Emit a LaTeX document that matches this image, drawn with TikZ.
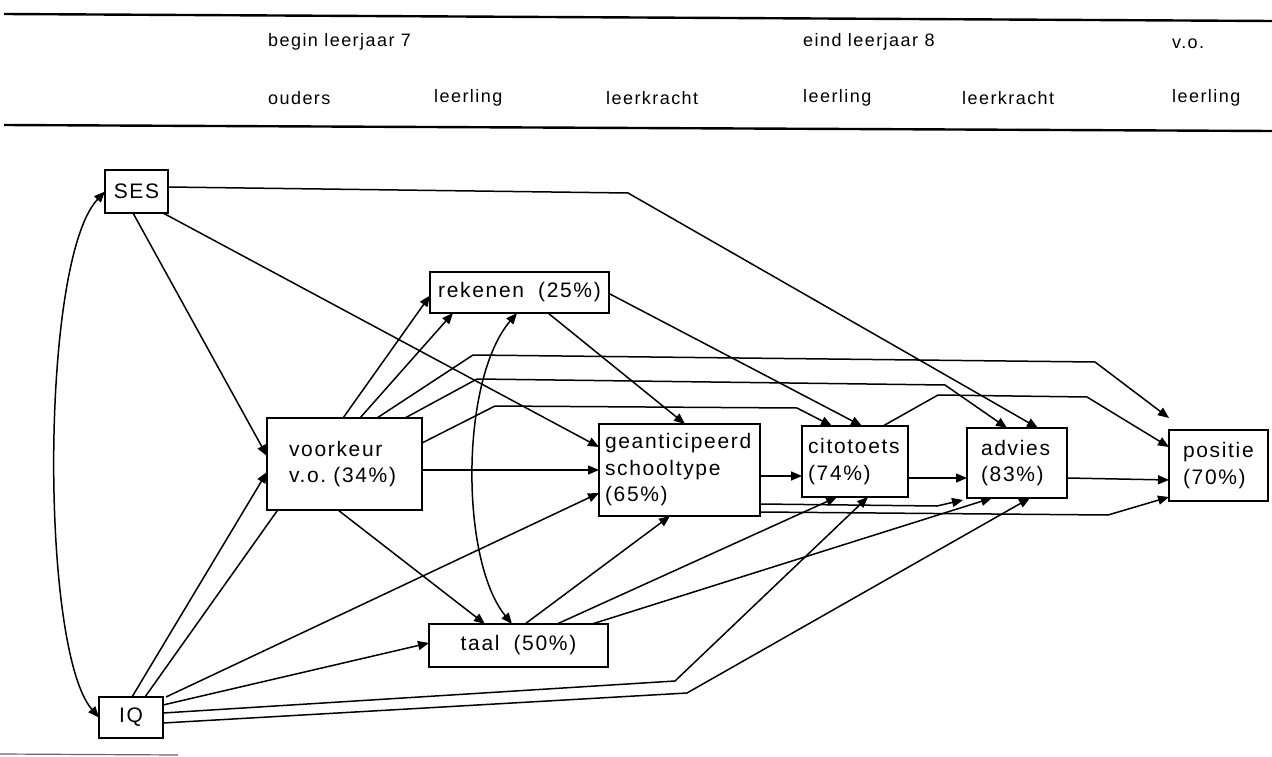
\documentclass[tikz,border=0pt]{standalone}
\usepackage{fontspec}
\setmainfont[LetterSpace=8]{Liberation Sans}
\usetikzlibrary{arrows.meta}
\pgfdeclarelayer{edges}
\pgfsetlayers{edges,main}
\newcommand\boxfont{\fontsize{21}{26.5}\selectfont}
\newcommand\hdrfont{\fontsize{18}{20}\selectfont}
\tikzset{
  box/.style={draw, line width=1.9pt, fill=white, font=\boxfont, anchor=north west, inner ysep=0pt, outer sep=0pt},
  hdr/.style={anchor=west, font=\hdrfont, inner sep=0pt},
  tip/.tip={Triangle[length=11pt,width=9pt]},
  conn/.style={line width=1.5pt, line join=round, -tip},
  biconn/.style={line width=1.5pt, tip-tip},
  rule/.style={line width=2.4pt}
}
\begin{document}
\begin{tikzpicture}[x=1pt,y=-1pt]
\useasboundingbox (0,0) rectangle (1272,757);
% rules
\draw[rule] (4,14) -- (1272,21);
\draw[rule] (4,125) -- (1272,131);
\draw[line width=1.2pt, black!60] (0,754) -- (178,755);
% header
\node[hdr] (h1) at (268,42) {begin leerjaar 7};
\node[hdr] (h2) at (803,42) {eind leerjaar 8};
\node[hdr] (h3) at (1172,44) {v.o.};
\node[hdr] (h4) at (268,98) {ouders};
\node[hdr] (h5) at (434,98) {leerling};
\node[hdr] (h6) at (606,98) {leerkracht};
\node[hdr] (h7) at (803,98) {leerling};
\node[hdr] (h8) at (962,98) {leerkracht};
\node[hdr] (h9) at (1172,98) {leerling};
% boxes
\node[box, align=center, text width=55pt, inner xsep=4pt, minimum height=43pt] (ses) at (105,170) {SES};
\node[box, align=center, text width=56pt, inner xsep=4pt, minimum height=41pt] (iq) at (99,697) {IQ};
\node[box, align=left, text width=111pt, inner xsep=22pt, minimum height=92pt] (vk) at (267,418) {voorkeur\\v.o.~(34\%)\\[3pt]};
\node[box, align=center, text width=171pt, inner xsep=4pt, minimum height=41pt] (rek) at (430,272) {rekenen~~(25\%)};
\node[box, align=left, text width=149pt, inner xsep=6pt, minimum height=92pt] (ga) at (599,424) {geanticipeerd\\schooltype\\(65\%)};
\node[box, align=left, text width=94pt, inner xsep=6pt, minimum height=71pt] (cito) at (802,426) {citotoets\\(74\%)};
\node[box, align=left, text width=72pt, inner xsep=14pt, minimum height=70pt] (adv) at (967,428) {advies\\(83\%)};
\node[box, align=left, text width=71pt, inner xsep=14pt, minimum height=71pt] (pos) at (1169,430) {positie\\(70\%)};
\node[box, align=center, text width=171pt, inner xsep=4pt, minimum height=43pt] (taal) at (429,624) {taal~~(50\%)};
% connectors
\begin{pgfonlayer}{edges}
\draw[biconn] (ses.west) .. controls (40,260) and (40,650) .. (iq.west);
\draw[conn] ([xshift=28pt]ses.south west) -- ([yshift=8pt]vk.west);
\draw[conn] ([xshift=33pt]iq.north west) -- ([yshift=-8pt]vk.west);
\draw[conn] ([xshift=46pt]iq.north west) -- ([yshift=-3pt]rek.west);
\draw[conn] ([xshift=93pt]vk.north west) -- ([xshift=23pt]rek.south west);
\draw[conn] ([xshift=-5pt]ses.south east) -- ([yshift=-23pt]ga.north west);
\draw[conn] ([yshift=4.5pt]ses.east) -- (628,193) -- ([xshift=71pt]adv.north west);
\draw[conn] ([yshift=-1pt]rek.east) -- ([xshift=60pt]cito.north west);
\draw[conn] ([xshift=118pt]rek.south west) -- ([xshift=86pt]ga.north west);
\draw[biconn] ([xshift=87pt]rek.south west) .. controls (460,380) and (460,560) .. ([xshift=83pt]taal.north west);
\draw[conn] ([xshift=71pt]vk.south west) -- ([xshift=56pt]taal.north west);
\draw[conn] ([xshift=110pt]vk.north west) -- (473,355) -- (1095,362) -- ([yshift=12pt]pos.north west);
\draw[conn] ([xshift=138pt]vk.north west) -- (477,379) -- (945,385) -- ([xshift=40pt]adv.north west);
\draw[conn] ([yshift=21pt]vk.east) -- (495,406) -- (797,408) -- ([xshift=30pt]cito.north west);
\draw[conn] ([yshift=-6pt]vk.east) -- (ga.west);
\draw[conn] ([yshift=-6pt]ga.east) -- ([yshift=-14.5pt]cito.west);
\draw[conn] ([yshift=-16.5pt]cito.east) -- ([yshift=-15pt]adv.west);
\draw[conn] ([yshift=-15pt]adv.east) -- ([yshift=-14.5pt]pos.west);
\draw[conn] ([yshift=12pt]ga.south east) -- (937,506) -- ([xshift=-4pt,yshift=-2pt]adv.south west);
\draw[conn] ([yshift=4pt]ga.south east) -- (1108,515) -- ([yshift=4pt]pos.south west);
\draw[conn] ([xshift=81pt]cito.north west) -- (938,395) -- (1087,397) -- ([yshift=18.5pt]pos.west);
\draw[conn] ([xshift=96pt]taal.north west) -- ([xshift=71pt]ga.south west);
\draw[conn] ([xshift=128pt]taal.north west) -- ([xshift=35pt]cito.south west);
\draw[conn] ([xshift=-16pt]taal.north east) -- ([xshift=25pt]adv.south west);
\draw[conn] ([xshift=3pt]iq.north east) -- ([yshift=-23pt]ga.west);
\draw[conn] ([yshift=12.5pt]iq.east) -- ([yshift=2.5pt]taal.west);
\draw[conn] ([yshift=4.5pt]iq.east) -- (675,681) -- ([xshift=66pt]cito.south west);
\draw[conn] ([yshift=-5.5pt]iq.east) -- (687,693) -- ([xshift=63pt]adv.south west);
\end{pgfonlayer}
\end{tikzpicture}
\end{document}
